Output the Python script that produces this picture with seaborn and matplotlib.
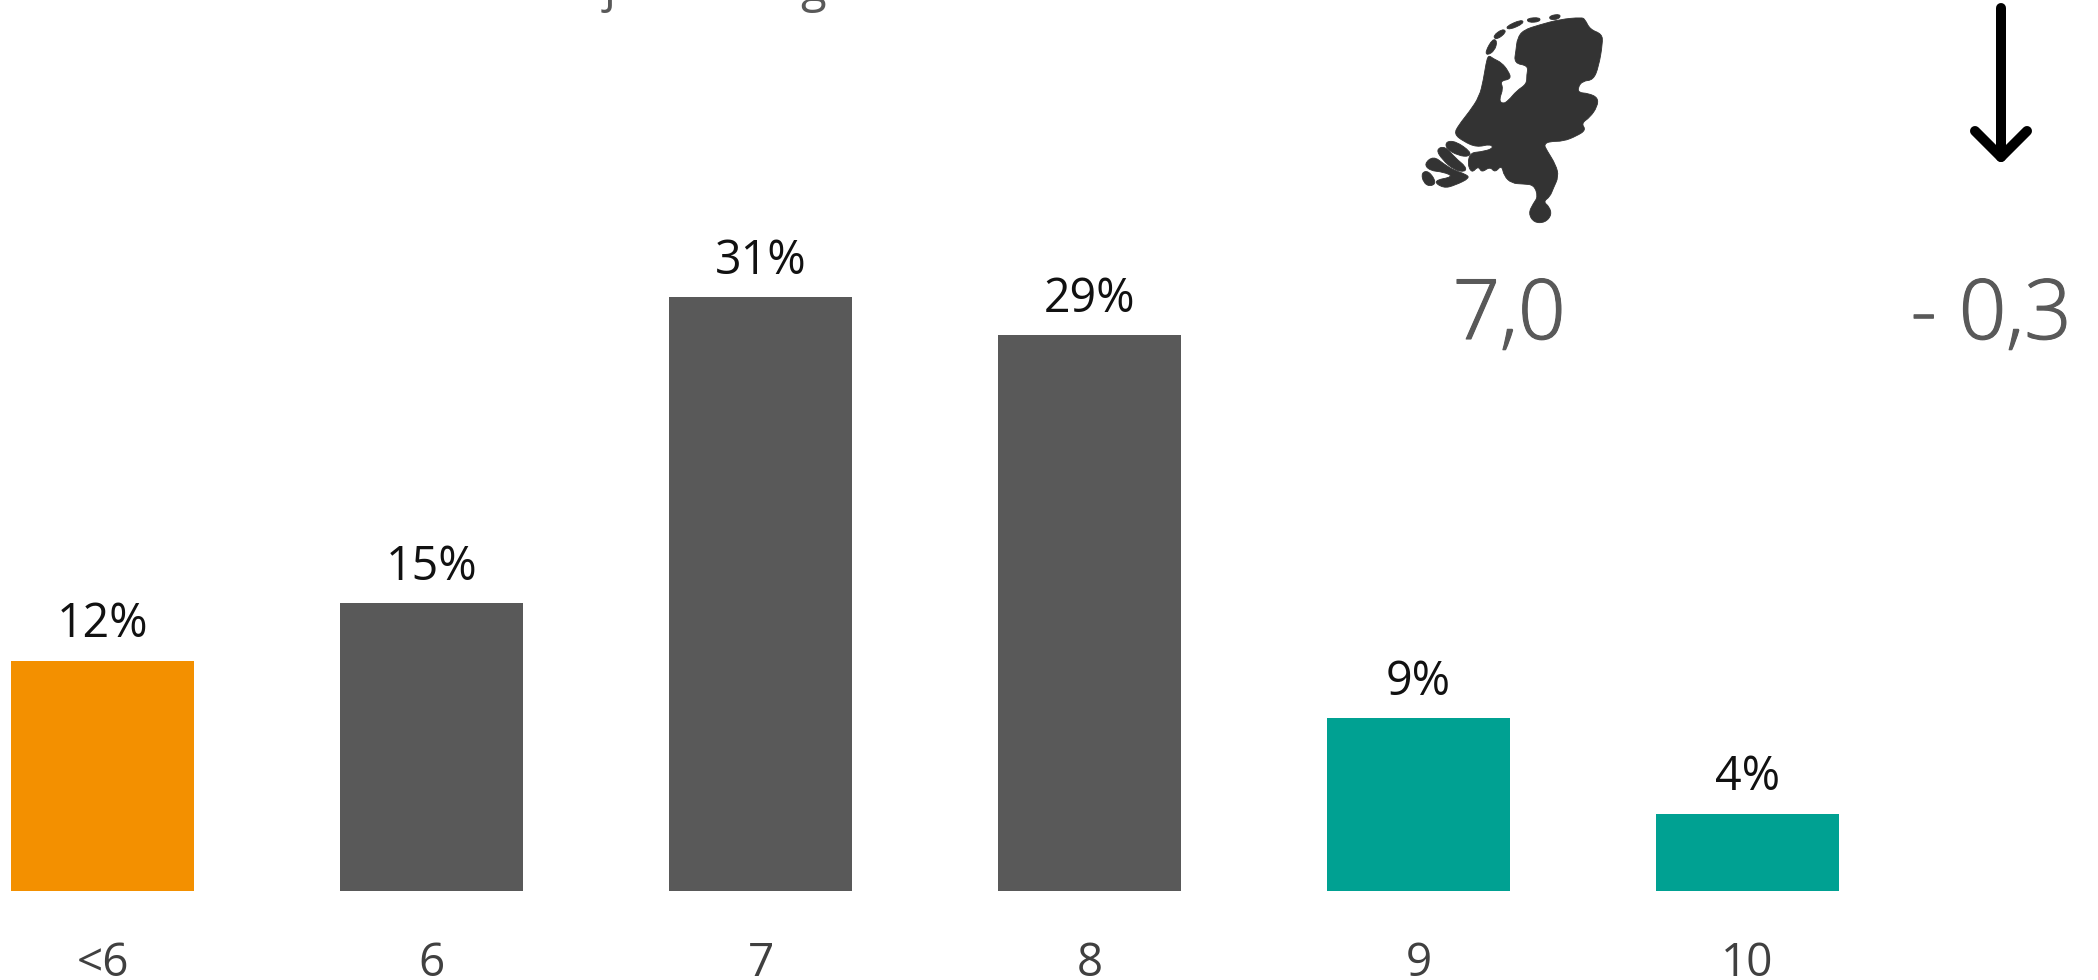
import matplotlib
matplotlib.use("Agg")
import matplotlib.pyplot as plt
import matplotlib.patheffects as pe
from matplotlib.path import Path
from matplotlib.patches import PathPatch
import pandas as pd
import seaborn as sns

categories = ["<6", "6", "7", "8", "9", "10"]
values = [12, 15, 31, 29, 9, 4]
bar_colors = ["#F39000", "#595959", "#595959", "#595959", "#00A192", "#00A192"]
average_text = "7,0"
change_text = "- 0,3"

W, H = 2098, 980
BASE = 890.5
UNIT = 19.14
C0, STEP = 102.8, 328.9

sns.set_theme(style="white")
plt.rcParams["font.family"] = ["Open Sans", "DejaVu Sans"]

fig = plt.figure(figsize=(W / 100, H / 100), dpi=100, facecolor="white")
ax = fig.add_axes([0, (H - BASE) / H, 1, BASE / H])
df = pd.DataFrame({"score": categories, "pct": values})
sns.barplot(data=df, x="score", y="pct", hue="score", palette=bar_colors, dodge=False,
            legend=False, width=0.557, saturation=1, linewidth=0, ax=ax)
ax.set_xlim(-C0 / STEP, (W - C0) / STEP)
ax.set_ylim(0, BASE / UNIT)
ax.set_xlabel("")
ax.set_ylabel("")
ax.set_yticks([])
ax.tick_params(axis="x", length=0, pad=36.5, labelsize=33, labelcolor="#404040")
for s in ax.spines.values():
    s.set_visible(False)
ax.patch.set_alpha(0)
for c in ax.containers:
    ax.bar_label(c, fmt="%d%%", padding=9, fontsize=33.5, color="#111111")

ov = fig.add_axes([0, 0, 1, 1])
ov.set_xlim(0, W)
ov.set_ylim(H, 0)
ov.axis("off")
ov.patch.set_alpha(0)

heavier = [pe.withStroke(linewidth=0.8, foreground="#595959")]
ov.text(1509, 339, average_text, ha="center", va="baseline", fontsize=60, color="#595959",
        fontweight="light", path_effects=heavier)
ov.text(1991, 339, change_text, ha="center", va="baseline", fontsize=60, color="#595959",
        fontweight="light", path_effects=heavier)

# clipped heading: only the descenders remain legible in the reference
ov.text(604, 2, "j", fontsize=34, color="#595959", va="baseline", clip_on=True)
ov.text(800, 2, "g", fontsize=34, color="#595959", va="baseline", clip_on=True)

# arrow icon
arrow = dict(color="black", lw=7.2, solid_capstyle="round", solid_joinstyle="round")
ov.plot([2001, 2001], [8, 157], **arrow)
ov.plot([1975, 2001, 2027], [131, 157, 131], **arrow)

# Netherlands icon (outline traced, in 3x crop units from origin 1380,0)
body = [(605,52),(540,58),(480,74),(430,90),(412,115),(408,150),(402,190),(445,197),(440,225),(440,252),
        (410,272),(385,302),(368,312),(357,300),(370,265),(360,243),(394,237),(385,213),(365,188),(340,176),
        (325,165),(318,190),(310,240),(298,290),(268,335),(236,375),(222,402),(250,424),(290,442),(332,432),
        (340,446),(300,456),(272,458),(262,490),(275,520),(295,498),(305,518),(330,500),(345,518),
        (365,495),(372,528),(395,550),(430,552),(462,555),(474,590),(460,610),(445,640),(462,668),(495,668),
        (515,645),(508,620),(490,605),(510,590),(520,565),(536,530),(528,495),(500,450),(492,433),(510,424),
        (550,424),(590,408),(618,390),(604,370),(630,352),(652,320),(654,293),(625,280),(596,278),(594,262),
        (608,243),(640,240),(656,200),(668,130),(666,102),(630,88),(615,58)]
islands = [
    [(198,424),(228,424),(272,455),(268,470),(235,467),(198,446)],
    [(168,448),(195,438),(226,474),(258,500),(256,516),(222,510),(186,478)],
    [(132,492),(160,468),(192,492),(220,510),(256,522),(270,534),(225,556),(190,565),(158,542),(222,530),(190,516),(150,512)],
    [(124,518),(146,512),(170,548),(150,560),(130,548)],
    [(316,155),(338,116),(352,123),(344,152),(322,166)],
    [(338,108),(368,86),(380,96),(350,120)],
    [(376,80),(425,58),(432,70),(388,90)],
    [(440,55),(480,52),(480,65),(445,68)],
    [(508,47),(542,42),(538,57),(510,60)],
]

def smooth(points):
    to_px = [(1380 + x / 3, y / 3) for x, y in points]
    n = len(to_px)
    mid = lambda a, b: ((a[0] + b[0]) / 2, (a[1] + b[1]) / 2)
    verts = [mid(to_px[-1], to_px[0])]
    codes = [Path.MOVETO]
    for i in range(n):
        verts += [to_px[i], mid(to_px[i], to_px[(i + 1) % n])]
        codes += [Path.CURVE3, Path.CURVE3]
    return verts, codes

for shape in [body] + islands:
    v, c = smooth(shape)
    ov.add_patch(PathPatch(Path(v, c), facecolor="#333333", edgecolor="#333333", linewidth=0.6))

fig.savefig("out.png", dpi=100, facecolor="white")
